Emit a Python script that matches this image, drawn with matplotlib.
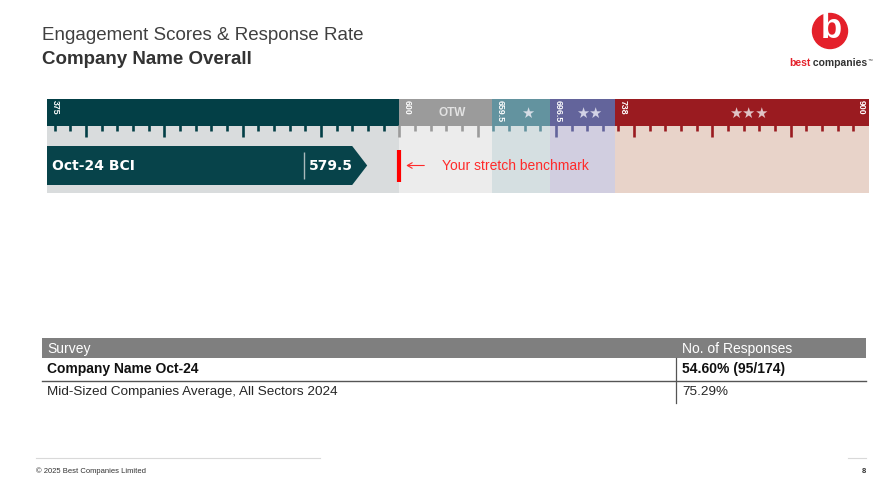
import matplotlib
matplotlib.use('Agg')
import matplotlib.pyplot as plt
from matplotlib.patches import Rectangle, Polygon, Circle
import numpy as np

plt.rcParams['font.family'] = ['Liberation Sans', 'DejaVu Sans']

# ---------------- data ----------------
band_edges = [375, 600, 659.5, 696.5, 738, 900]
edge_labels = ['375', '600', '659.5', '696.5', '738', '900']
band_names = ['', 'OTW', '★', '★★', '★★★']
header_colors = ['#033f46', '#9b9b9b', '#63939f', '#63649b', '#9a1b20']
body_colors = ['#d9dcdd', '#ececec', '#d5dfe1', '#d1cee0', '#e8d3c9']
name_colors = ['#ffffff', '#e2e2e2', '#d6dde6', '#d3d3e6', '#e0c4c6']
tick_step = 10
major_step = 50

bci_label = 'Oct-24 BCI'
bci_value = 579.5
benchmark_value = 600
benchmark_text = 'Your stretch benchmark'

table_header = ['Survey', 'No. of Responses']
table_surveys = ['Company Name Oct-24', 'Mid-Sized Companies Average, All Sectors 2024']
table_responses = ['54.60% (95/174)', '75.29%']

title_line1 = 'Engagement Scores & Response Rate'
title_line2 = 'Company Name Overall'
footer_text = '© 2025 Best Companies Limited'
page_number = '8'

# ---------------- figure ----------------
W, H = 896, 484
fig = plt.figure(figsize=(W / 100, H / 100), dpi=100)
fig.patch.set_facecolor('white')
bg = fig.add_axes([0, 0, 1, 1])
bg.set_xlim(0, W)
bg.set_ylim(H, 0)
bg.axis('off')

# titles
bg.text(42, 35, title_line1, fontsize=13.5, color='#404040', va='center', ha='left')
bg.text(42, 59, title_line2, fontsize=13.5, fontweight='bold', color='#333333',
        va='center', ha='left')

# logo
bg.add_patch(Circle((830, 31), 17.5, color='#e4202a', zorder=2))
bg.text(831, 29, 'b', fontsize=25, fontweight='bold', color='white',
        ha='center', va='center', zorder=3)
t_best = bg.text(789, 63, 'best', fontsize=7.5, fontweight='bold', color='#e4202a',
                 ha='left', va='center')
t_comp = bg.annotate(' companies', xy=(1, 0), xycoords=t_best, fontsize=7.5,
                     fontweight='bold', color='#333333', ha='left', va='bottom')
bg.annotate('™', xy=(1, 0.6), xycoords=t_comp, fontsize=3.5, color='#333333',
            ha='left', va='bottom')

# ---------------- scale bar ----------------
x0, x1, y0, y1 = 47, 869, 99, 193
ax = fig.add_axes([x0 / W, 1 - y1 / H, (x1 - x0) / W, (y1 - y0) / H])
ax.set_xlim(band_edges[0], band_edges[-1])
ax.set_ylim(94, 0)
ax.axis('off')
px_per_unit = (x1 - x0) / (band_edges[-1] - band_edges[0])

head_h = 27
for i in range(len(band_edges) - 1):
    e0, e1 = band_edges[i], band_edges[i + 1]
    ax.add_patch(Rectangle((e0, 0), e1 - e0, 94, color=body_colors[i], lw=0, zorder=1))
    ax.add_patch(Rectangle((e0, 0), e1 - e0, head_h, color=header_colors[i], lw=0, zorder=2))
    if band_names[i]:
        is_star = '★' in band_names[i]
        ax.annotate(band_names[i], xy=((e0 + e1) / 2, head_h / 2 + 0.5), xytext=(4.5, 0),
                    textcoords='offset points',
                    fontsize=10.5 if is_star else 8.5, fontweight='bold',
                    color=name_colors[i], ha='center', va='center', zorder=4,
                    family=['DejaVu Sans'] if is_star else ['Liberation Sans'])

# edge labels
for j, (e, lab) in enumerate(zip(band_edges, edge_labels)):
    last = j == len(band_edges) - 1
    ax.annotate(lab, xy=(e, 1), xytext=(-2.5 if last else 2.5, 0), textcoords='offset points',
                rotation=270, fontsize=6.3, fontweight='bold', color='white',
                ha='right' if last else 'left', va='top', zorder=5)

# ticks
first_tick = np.ceil((band_edges[0] + 1) / tick_step) * tick_step
for v in np.arange(first_tick, band_edges[-1], tick_step):
    idx = np.searchsorted(band_edges, v, side='right') - 1
    major = (round(v) % major_step) == 0
    ax.vlines(v, head_h - 1, head_h + (11 if major else 5.5), color=header_colors[idx],
              lw=1.9, zorder=3)

# BCI arrow
tip = 15 / px_per_unit
arrow_pts = [(band_edges[0], 47), (bci_value - tip, 47), (bci_value, 66.5),
             (bci_value - tip, 86), (band_edges[0], 86)]
ax.add_patch(Polygon(arrow_pts, closed=True, color='#07434a', lw=0, zorder=4))
ax.annotate(bci_label, xy=(band_edges[0], 66.5), xytext=(3.5, 0), textcoords='offset points',
            fontsize=10, fontweight='bold', color='white', ha='left', va='center', zorder=5,
            family=['DejaVu Sans'])
sep_x = bci_value - 63 / px_per_unit
ax.vlines(sep_x, 53, 80, color='#a9b9bb', lw=1, zorder=5)
ax.annotate(f'{bci_value}', xy=(sep_x, 66.5), xytext=(3.5, 0), textcoords='offset points',
            fontsize=10, fontweight='bold', color='white', ha='left', va='center', zorder=5,
            family=['DejaVu Sans'])

# benchmark marker
ax.vlines(benchmark_value, 51, 83, color='#ff0000', lw=3, zorder=5)
ax.annotate('', xy=(benchmark_value, 66.5), xytext=(18, 0), textcoords='offset points',
            arrowprops=dict(arrowstyle='->,head_length=0.35,head_width=0.2', color='#ff2a2a',
                            lw=0.8, shrinkA=0, shrinkB=5), zorder=5)
ax.annotate(benchmark_text, xy=(benchmark_value, 66.5), xytext=(31, 0),
            textcoords='offset points', fontsize=10, color='#ff2a2a',
            ha='left', va='center', zorder=5)

# ---------------- table ----------------
tx0, tx1, tcol = 42, 866, 676
bg.add_patch(Rectangle((tx0, 338), tx1 - tx0, 20, color='#7f7f7f', lw=0))
bg.text(47, 348.5, table_header[0], fontsize=10, color='white', va='center', ha='left')
bg.text(tcol + 6, 348.5, table_header[1], fontsize=10, color='white', va='center', ha='left')
row_y = [369.5, 392]
for k, (s, r) in enumerate(zip(table_surveys, table_responses)):
    bold = k == 0
    bg.text(47, row_y[k], s, fontsize=10 if bold else 9.7,
            fontweight='bold' if bold else 'normal',
            color='#111111' if bold else '#262626', va='center', ha='left')
    bg.text(tcol + 6, row_y[k], r, fontsize=10 if bold else 9.7,
            fontweight='bold' if bold else 'normal',
            color='#111111' if bold else '#262626', va='center', ha='left')
bg.plot([tx0, tx1], [381, 381], color='#555555', lw=1)
bg.plot([tcol, tcol], [358, 403], color='#555555', lw=0.9)

# ---------------- footer ----------------
bg.plot([36, 320], [458, 458], color='#d9d9d9', lw=0.8)
bg.plot([848, 866], [458, 458], color='#d9d9d9', lw=0.8)
bg.text(36, 471.5, footer_text, fontsize=5.5, color='#333333', va='center', ha='left')
bg.text(866, 471.5, page_number, fontsize=5.5, fontweight='bold', color='#333333',
        va='center', ha='right')

fig.savefig('out.png', dpi=100, facecolor='white')
